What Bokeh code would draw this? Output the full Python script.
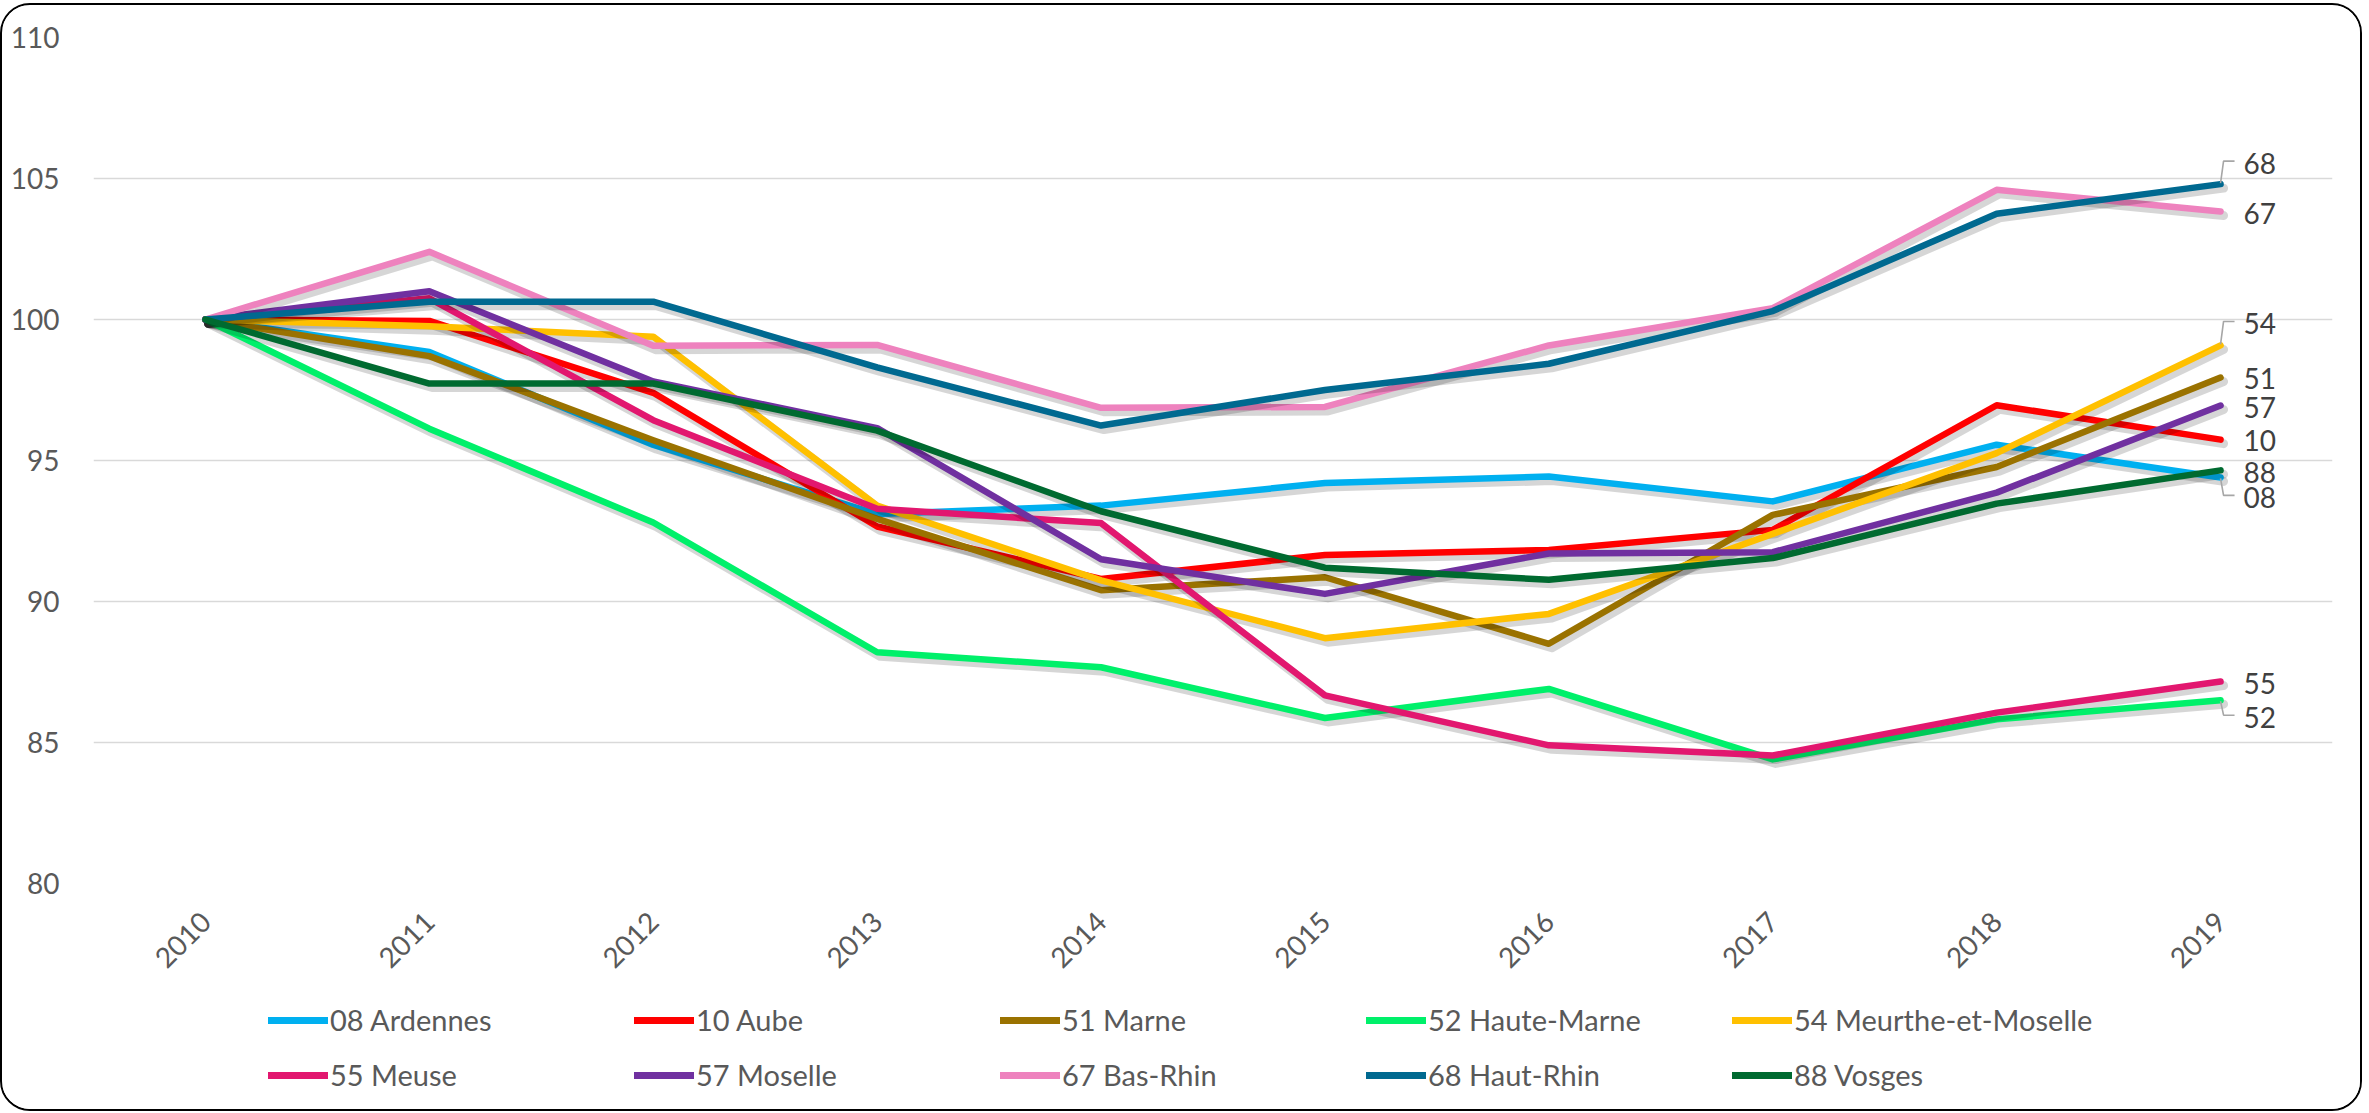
import math
from bokeh.plotting import figure
from bokeh.layouts import column
from bokeh.models import Range1d, FixedTicker, Legend, LegendItem, ColumnDataSource
from bokeh.embed import file_html
from bokeh.resources import INLINE
from bokeh.core.properties import value

years = ["2010", "2011", "2012", "2013", "2014", "2015", "2016", "2017", "2018", "2019"]
codes = ["08", "10", "51", "52", "54", "55", "57", "67", "68", "88"]
names = ["08 Ardennes", "10 Aube", "51 Marne", "52 Haute-Marne", "54 Meurthe-et-Moselle",
         "55 Meuse", "57 Moselle", "67 Bas-Rhin", "68 Haut-Rhin", "88 Vosges"]

s08 = [100, 98.85, 95.55, 93.1, 93.4, 94.2, 94.43, 93.55, 95.56, 94.4]
s10 = [100, 99.95, 97.4, 92.66, 90.8, 91.65, 91.83, 92.54, 96.96, 95.74]
s51 = [100, 98.7, 95.72, 92.93, 90.4, 90.86, 88.5, 93.07, 94.77, 97.94]
s52 = [100, 96.13, 92.8, 88.2, 87.67, 85.87, 86.9, 84.4, 85.82, 86.5]
s54 = [100, 99.76, 99.39, 93.4, 90.75, 88.7, 89.56, 92.4, 95.26, 99.08]
s55 = [100, 100.75, 96.43, 93.29, 92.78, 86.67, 84.9, 84.54, 86.06, 87.16]
s57 = [100, 101.0, 97.8, 96.15, 91.5, 90.27, 91.7, 91.75, 93.86, 96.95]
s67 = [100, 102.4, 99.07, 99.1, 96.87, 96.9, 99.08, 100.4, 104.6, 103.83]
s68 = [100, 100.63, 100.63, 98.3, 96.24, 97.5, 98.43, 100.3, 103.75, 104.8]
s88 = [100, 97.73, 97.73, 96.06, 93.2, 91.2, 90.77, 91.54, 93.47, 94.65]
series = [s08, s10, s51, s52, s54, s55, s57, s67, s68, s88]

y_ticks = [80, 85, 90, 95, 100, 105, 110]

# styling
colors = ["#00B0F0", "#FF0000", "#9A7200", "#00F06A", "#FFC000",
          "#E2176F", "#7030A0", "#EE82BE", "#006990", "#006A30"]
label_dy = {"68": -21, "67": 2, "54": -22, "51": 1, "57": 2, "10": 1,
            "88": 2, "08": 20, "55": 2, "52": 17}

W = 2358
HA, HB = 990, 114
FL, FT, FW, FH = 91, 32, 2239, 846
px_x = FW / len(years)
px_y = FH / (y_ticks[-1] - y_ticks[0])

p = figure(width=W, height=HA, output_backend="svg", toolbar_location=None,
           x_range=Range1d(-0.5, len(years) - 0.5),
           y_range=Range1d(y_ticks[0], y_ticks[-1]),
           min_border_left=FL, min_border_right=W - FL - FW,
           min_border_top=FT, min_border_bottom=HA - FT - FH)
p.outline_line_color = None
p.background_fill_color = "white"
p.border_fill_color = "white"

p.xgrid.grid_line_color = None
p.ygrid.grid_line_color = "#D9D9D9"
p.ygrid.grid_line_width = 1.6

p.yaxis.ticker = FixedTicker(ticks=y_ticks)
p.yaxis.axis_line_color = None
p.yaxis.major_tick_line_color = None
p.yaxis.minor_tick_line_color = None
p.yaxis.major_label_text_font = "Lato"
p.yaxis.major_label_text_font_size = "28px"
p.yaxis.major_label_text_color = "#595959"
p.yaxis.major_label_standoff = 28

xs = list(range(len(years)))
p.xaxis.ticker = FixedTicker(ticks=xs)
p.xaxis.major_label_overrides = {i: y for i, y in enumerate(years)}
p.xaxis.major_label_orientation = math.pi / 4
p.xaxis.axis_line_color = None
p.xaxis.major_tick_line_color = None
p.xaxis.minor_tick_line_color = None
p.xaxis.major_label_text_font = "Lato"
p.xaxis.major_label_text_font_size = "28px"
p.xaxis.major_label_text_color = "#595959"
p.xaxis.major_label_standoff = 27

for name, s, c in zip(names, series, colors):
    p.line([x + 3 / px_x for x in xs], [v - 4 / px_y for v in s],
           line_color="black", line_alpha=0.16, line_width=9,
           line_join="round", line_cap="round")
    p.line(xs, s, line_color=c, line_width=6.5, line_join="round", line_cap="round")

# end labels
last = xs[-1]
ends = [s[-1] for s in series]
src = ColumnDataSource(dict(x=[last] * len(codes), y=ends, t=codes,
                            dy=[label_dy[c] for c in codes]))
p.text(x="x", y="y", text="t", source=src, x_offset=23, y_offset="dy",
       text_baseline="middle", text_align="left",
       text_font=value("Lato"), text_font_size=value("28px"), text_color="#404040")

# leader lines for displaced labels
lx, ly = [], []
for c, v in zip(codes, ends):
    dy = label_dy[c]
    if abs(dy) > 10:
        sgn = 1 if dy > 0 else -1
        yy = v - (dy - 2) / px_y
        lx.append([last, last + 3 / px_x, last + 14 / px_x])
        ly.append([v - sgn * 1 / px_y, yy, yy])
p.multi_line(lx, ly, line_color="#A6A6A6", line_width=1.6)

# legend strip (separate figure so the legend is not clipped)
q = figure(width=W, height=HB, output_backend="svg", toolbar_location=None,
           x_range=Range1d(0, W), y_range=Range1d(0, HB),
           x_axis_type=None, y_axis_type=None,
           min_border_left=0, min_border_right=0, min_border_top=0, min_border_bottom=0)
q.outline_line_color = None
q.background_fill_color = "white"
q.border_fill_color = "white"
items = []
nan = float("nan")
for name, c in zip(names, colors):
    r = q.line([nan], [nan], line_color=c, line_width=7, line_cap="round")
    items.append(LegendItem(label=name, renderers=[r]))

for row, (sub, yb) in enumerate([(items[:5], 72), (items[5:], 17)]):
    lg = Legend(items=sub, orientation="horizontal", location=(175, yb),
                glyph_width=60, glyph_height=30, label_height=30,
                label_width=304, label_standoff=2, spacing=0,
                padding=0, margin=0, border_line_color=None,
                background_fill_alpha=0,
                label_text_font="Lato", label_text_font_size="29px",
                label_text_color="#595959")
    q.add_layout(lg, "center")

layout = column(p, q, spacing=0)
layout.styles = {"border": "2px solid #000", "border-radius": "30px",
                 "overflow": "hidden", "margin-top": "3px"}

open("out.html", "w").write(file_html(layout, INLINE))
